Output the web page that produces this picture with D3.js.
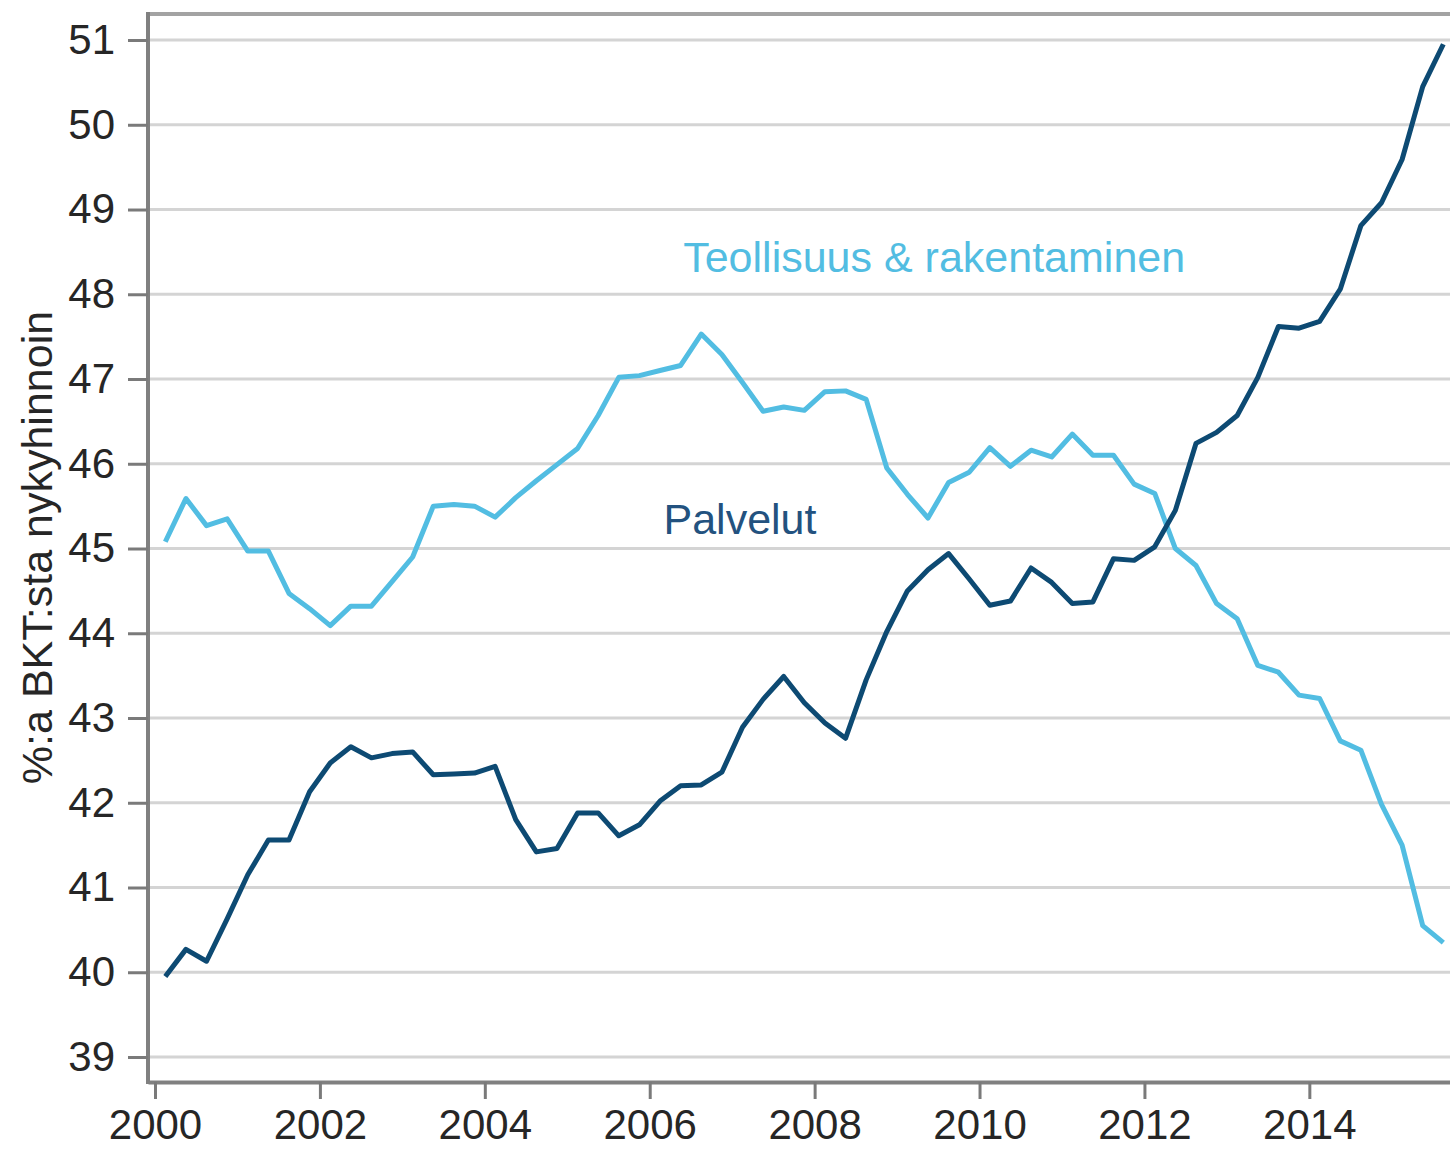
<!DOCTYPE html>
<html>
<head>
<meta charset="utf-8">
<script src="https://cdn.jsdelivr.net/npm/d3@7/dist/d3.min.js"></script>
<style>
  body { margin: 0; background: #fff; }
  svg { display: block; font-family: "Liberation Sans", Arial, sans-serif; }
</style>
</head>
<body>
<svg id="chart" width="1450" height="1150"></svg>
<script>
// Osuus BKT:sta (%), neljännesvuosittain 2000Q1 - 2015Q3
const firstQuarter = 2000.125;

const teollisuus = [
  45.08, 45.59, 45.27, 45.35, 44.97, 44.97, 44.47, 44.29,
  44.09, 44.32, 44.32, 44.61, 44.90, 45.50, 45.52, 45.50,
  45.37, 45.60, 45.80, 45.99, 46.18, 46.57, 47.02, 47.04,
  47.10, 47.16, 47.53, 47.29, 46.96, 46.62, 46.67, 46.63,
  46.85, 46.86, 46.76, 45.95, 45.64, 45.36, 45.78, 45.90,
  46.19, 45.97, 46.16, 46.08, 46.35, 46.10, 46.10, 45.76,
  45.65, 45.00, 44.80, 44.35, 44.17, 43.62, 43.54, 43.27,
  43.23, 42.73, 42.62, 41.98, 41.50, 40.55, 40.35
];

const palvelut = [
  39.95, 40.27, 40.13, 40.63, 41.15, 41.56, 41.56, 42.13,
  42.47, 42.66, 42.53, 42.58, 42.60, 42.33, 42.34, 42.35,
  42.43, 41.80, 41.42, 41.46, 41.88, 41.88, 41.61, 41.74,
  42.02, 42.20, 42.21, 42.36, 42.89, 43.22, 43.49, 43.18,
  42.94, 42.76, 43.45, 44.02, 44.50, 44.75, 44.94, 44.64,
  44.33, 44.38, 44.77, 44.60, 44.35, 44.37, 44.88, 44.86,
  45.02, 45.45, 46.24, 46.37, 46.57, 47.02, 47.62, 47.60,
  47.68, 48.06, 48.81, 49.08, 49.59, 50.45, 50.95
];

const yTicks = [39, 40, 41, 42, 43, 44, 45, 46, 47, 48, 49, 50, 51];
const xTicks = [2000, 2002, 2004, 2006, 2008, 2010, 2012, 2014];

const lightBlue = '#52bde2';
const darkBlue = '#0d4a73';

const svg = d3.select('#chart');

const plotLeft = 148, plotRight = 1450, plotTop = 14, plotBottom = 1082;

const x = d3.scaleLinear()
  .domain([1999.915, 2015.706])
  .range([plotLeft, plotRight]);

const y = d3.scaleLinear()
  .domain([38.705, 51.307])
  .range([plotBottom, plotTop]);

// Vaakasuorat apuviivat
svg.append('g')
  .selectAll('line')
  .data(yTicks)
  .enter()
  .append('line')
  .attr('x1', plotLeft)
  .attr('x2', plotRight)
  .attr('y1', d => y(d))
  .attr('y2', d => y(d))
  .attr('stroke', '#d4d4d4')
  .attr('stroke-width', 3);

// Sarjat
const line = values => d3.line()
  .x((d, i) => x(firstQuarter + i / 4))
  .y(d => y(d))(values);

svg.append('path')
  .attr('d', line(teollisuus))
  .attr('fill', 'none')
  .attr('stroke', lightBlue)
  .attr('stroke-width', 5)
  .attr('stroke-linejoin', 'round');

svg.append('path')
  .attr('d', line(palvelut))
  .attr('fill', 'none')
  .attr('stroke', darkBlue)
  .attr('stroke-width', 5)
  .attr('stroke-linejoin', 'round');

// Yläreuna
svg.append('line')
  .attr('x1', plotLeft)
  .attr('x2', plotRight)
  .attr('y1', plotTop)
  .attr('y2', plotTop)
  .attr('stroke', '#a3a3a3')
  .attr('stroke-width', 4);

// Akselit
const yAxis = svg.append('g')
  .attr('transform', `translate(${plotLeft},0)`)
  .call(d3.axisLeft(y).tickValues(yTicks).tickSize(20).tickPadding(13).tickSizeOuter(0));

const xAxis = svg.append('g')
  .attr('transform', `translate(0,${plotBottom})`)
  .call(d3.axisBottom(x).tickValues(xTicks).tickFormat(d3.format('d')).tickSize(17).tickPadding(10).tickSizeOuter(0));

[yAxis, xAxis].forEach(a => {
  a.select('.domain').attr('stroke', '#808080').attr('stroke-width', 4);
  a.selectAll('.tick line').attr('stroke', '#7a7a7a').attr('stroke-width', 3);
  a.selectAll('.tick text')
    .attr('fill', '#262626')
    .style('font-size', '42px')
    .style('font-family', '"Liberation Sans", Arial, sans-serif');
});

// vasen akseli koko korkeudelta
yAxis.select('.domain').attr('d', `M0,${plotTop - 2}V${plotBottom + 2}`);

// Y-akselin otsikko
svg.append('text')
  .attr('transform', `translate(52,${(310 + 785) / 2}) rotate(-90)`)
  .attr('text-anchor', 'middle')
  .attr('fill', '#262626')
  .style('font-size', '43px')
  .text('%:a BKT:sta nykyhinnoin');

// Sarjojen nimet
svg.append('text')
  .attr('x', x(2009.45))
  .attr('y', y(48.26))
  .attr('text-anchor', 'middle')
  .attr('fill', lightBlue)
  .style('font-size', '43px')
  .text('Teollisuus & rakentaminen');

svg.append('text')
  .attr('x', x(2007.095))
  .attr('y', y(45.17))
  .attr('text-anchor', 'middle')
  .attr('fill', '#23527f')
  .style('font-size', '43px')
  .text('Palvelut');
</script>
</body>
</html>
